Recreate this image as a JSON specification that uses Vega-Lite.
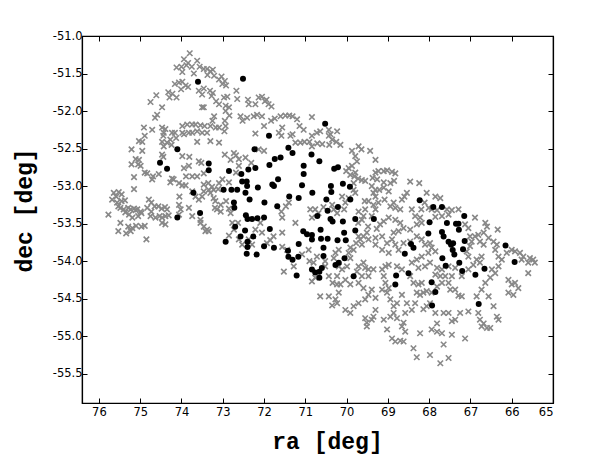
{
"$schema": "https://vega.github.io/schema/vega-lite/v6.json",
"autosize": "none",
"width": 471,
"height": 367,
"padding": {"left": 82, "top": 36, "right": 42, "bottom": 68},
"background": "white",
"config": {
  "view": {"stroke": "black", "strokeWidth": 1.2},
  "axis": {"grid": false, "domain": true, "domainColor": "black", "domainWidth": 1.2, "tickColor": "black", "tickSize": -5, "tickWidth": 1, "labelFont": "DejaVu Sans", "labelFontSize": 11.5, "labelColor": "black", "titleFont": "Liberation Mono", "titleFontWeight": "bold", "titleFontSize": 23, "titleColor": "black"}
},
"datasets": {
"gray": [
{"ra":73.80,"dec":-51.23},{"ra":73.94,"dec":-51.31},{"ra":73.84,"dec":-51.36},{"ra":73.62,"dec":-51.33},{"ra":74.12,"dec":-51.42},{"ra":74.00,"dec":-51.41},{"ra":73.88,"dec":-51.39},{"ra":73.75,"dec":-51.41},{"ra":73.56,"dec":-51.41},{"ra":73.46,"dec":-51.44},{"ra":73.38,"dec":-51.44},{"ra":73.30,"dec":-51.47},{"ra":73.24,"dec":-51.45},{"ra":73.98,"dec":-51.48},{"ra":73.70,"dec":-51.50},{"ra":73.37,"dec":-51.52},{"ra":73.21,"dec":-51.53},{"ra":73.03,"dec":-51.54},{"ra":73.09,"dec":-51.58},{"ra":72.95,"dec":-51.60},{"ra":72.92,"dec":-51.66},{"ra":73.01,"dec":-51.64},{"ra":74.06,"dec":-51.62},{"ra":73.98,"dec":-51.61},{"ra":73.90,"dec":-51.66},{"ra":73.84,"dec":-51.68},{"ra":74.01,"dec":-51.71},{"ra":74.16,"dec":-51.64},{"ra":73.46,"dec":-51.70},{"ra":73.31,"dec":-51.73},{"ra":73.27,"dec":-51.80},{"ra":73.24,"dec":-51.76},{"ra":73.58,"dec":-51.73},{"ra":73.50,"dec":-51.78},{"ra":74.32,"dec":-51.75},{"ra":74.22,"dec":-51.77},{"ra":74.12,"dec":-51.82},{"ra":74.29,"dec":-51.82},{"ra":74.61,"dec":-51.79},{"ra":74.75,"dec":-51.88},{"ra":74.47,"dec":-51.95},{"ra":74.59,"dec":-52.05},{"ra":74.64,"dec":-52.09},{"ra":73.50,"dec":-51.95},{"ra":73.46,"dec":-51.95},{"ra":73.16,"dec":-51.87},{"ra":73.09,"dec":-51.91},{"ra":72.97,"dec":-51.82},{"ra":72.89,"dec":-51.81},{"ra":72.93,"dec":-51.93},{"ra":72.85,"dec":-51.95},{"ra":72.67,"dec":-51.73},{"ra":72.65,"dec":-51.84},{"ra":72.39,"dec":-51.85},{"ra":72.37,"dec":-51.91},{"ra":72.21,"dec":-51.91},{"ra":72.13,"dec":-51.82},{"ra":72.05,"dec":-51.81},{"ra":71.98,"dec":-51.87},{"ra":71.94,"dec":-51.85},{"ra":71.89,"dec":-51.91},{"ra":71.82,"dec":-51.94},{"ra":72.93,"dec":-52.00},{"ra":72.95,"dec":-52.13},{"ra":72.84,"dec":-52.06},{"ra":72.57,"dec":-52.07},{"ra":72.41,"dec":-52.09},{"ra":72.52,"dec":-52.13},{"ra":72.25,"dec":-52.07},{"ra":72.17,"dec":-52.05},{"ra":72.05,"dec":-52.07},{"ra":71.83,"dec":-52.13},{"ra":71.74,"dec":-52.10},{"ra":71.60,"dec":-52.07},{"ra":71.48,"dec":-52.06},{"ra":71.39,"dec":-52.06},{"ra":71.31,"dec":-52.07},{"ra":71.20,"dec":-52.11},{"ra":70.84,"dec":-52.08},{"ra":71.14,"dec":-52.20},{"ra":71.04,"dec":-52.25},{"ra":71.56,"dec":-52.22},{"ra":71.58,"dec":-52.33},{"ra":72.00,"dec":-52.20},{"ra":72.21,"dec":-52.30},{"ra":71.64,"dec":-52.29},{"ra":71.36,"dec":-52.33},{"ra":71.31,"dec":-52.31},{"ra":71.24,"dec":-52.42},{"ra":71.12,"dec":-52.42},{"ra":71.02,"dec":-52.41},{"ra":70.90,"dec":-52.41},{"ra":70.84,"dec":-52.33},{"ra":70.72,"dec":-52.29},{"ra":70.64,"dec":-52.27},{"ra":70.43,"dec":-52.25},{"ra":70.39,"dec":-52.31},{"ra":70.23,"dec":-52.27},{"ra":70.43,"dec":-52.33},{"ra":70.35,"dec":-52.38},{"ra":70.25,"dec":-52.41},{"ra":70.15,"dec":-52.45},{"ra":70.42,"dec":-52.45},{"ra":70.71,"dec":-52.43},{"ra":70.84,"dec":-52.47},{"ra":70.59,"dec":-52.44},
{"ra":73.98,"dec":-52.20},{"ra":73.86,"dec":-52.18},{"ra":73.74,"dec":-52.18},{"ra":73.66,"dec":-52.18},{"ra":73.54,"dec":-52.19},{"ra":73.44,"dec":-52.20},{"ra":73.38,"dec":-52.29},{"ra":73.21,"dec":-52.07},{"ra":73.25,"dec":-52.13},{"ra":73.30,"dec":-52.20},{"ra":73.17,"dec":-52.22},{"ra":73.09,"dec":-52.22},{"ra":72.96,"dec":-52.27},{"ra":72.93,"dec":-52.20},{"ra":73.30,"dec":-52.40},{"ra":73.09,"dec":-52.42},{"ra":73.62,"dec":-52.41},{"ra":73.94,"dec":-52.31},{"ra":73.98,"dec":-52.29},{"ra":73.82,"dec":-52.29},{"ra":73.74,"dec":-52.29},{"ra":73.62,"dec":-52.27},{"ra":73.50,"dec":-52.29},{"ra":74.47,"dec":-52.22},{"ra":74.43,"dec":-52.29},{"ra":74.39,"dec":-52.24},{"ra":74.23,"dec":-52.29},{"ra":74.16,"dec":-52.29},{"ra":74.44,"dec":-52.33},{"ra":74.35,"dec":-52.42},{"ra":74.27,"dec":-52.38},{"ra":74.13,"dec":-52.36},{"ra":74.47,"dec":-52.41},{"ra":74.43,"dec":-52.47},{"ra":74.24,"dec":-52.45},{"ra":74.71,"dec":-52.25},{"ra":74.91,"dec":-52.22},{"ra":74.89,"dec":-52.33},{"ra":75.03,"dec":-52.40},{"ra":74.95,"dec":-52.41},{"ra":75.21,"dec":-52.51},{"ra":74.95,"dec":-52.53},{"ra":75.11,"dec":-52.64},{"ra":75.03,"dec":-52.65},{"ra":75.21,"dec":-52.71},{"ra":75.05,"dec":-52.71},{"ra":74.99,"dec":-52.73},{"ra":74.89,"dec":-52.82},{"ra":74.83,"dec":-52.83},{"ra":74.71,"dec":-52.91},{"ra":74.55,"dec":-52.84},{"ra":74.69,"dec":-52.87},{"ra":75.15,"dec":-52.88},{"ra":75.15,"dec":-53.04},{"ra":74.47,"dec":-52.58},{"ra":74.44,"dec":-52.61},{"ra":74.23,"dec":-52.90},{"ra":74.27,"dec":-52.95},{"ra":74.19,"dec":-52.91},{"ra":74.06,"dec":-52.96},{"ra":73.98,"dec":-52.99},{"ra":73.90,"dec":-52.99},{"ra":73.98,"dec":-52.60},{"ra":73.81,"dec":-52.61},{"ra":73.82,"dec":-52.73},{"ra":73.94,"dec":-52.76},{"ra":73.89,"dec":-52.87},{"ra":73.58,"dec":-52.67},{"ra":73.52,"dec":-52.69},{"ra":73.74,"dec":-52.87},{"ra":73.62,"dec":-52.87},{"ra":73.46,"dec":-52.83},{"ra":73.35,"dec":-52.96},{"ra":73.46,"dec":-52.98},{"ra":73.34,"dec":-53.05},{"ra":73.46,"dec":-53.07},{"ra":73.26,"dec":-53.01},{"ra":73.22,"dec":-53.05},{"ra":73.11,"dec":-53.04},{"ra":72.95,"dec":-52.58},{"ra":72.73,"dec":-52.56},{"ra":72.68,"dec":-52.59},{"ra":72.81,"dec":-52.65},{"ra":72.61,"dec":-52.64},{"ra":72.68,"dec":-52.82},{"ra":72.61,"dec":-52.73},{"ra":72.45,"dec":-52.62},{"ra":72.31,"dec":-52.69},{"ra":72.13,"dec":-52.51},{"ra":72.00,"dec":-52.53},{"ra":73.01,"dec":-52.91},{"ra":73.09,"dec":-52.96},{"ra":72.85,"dec":-52.95},
{"ra":75.64,"dec":-53.09},{"ra":75.52,"dec":-53.08},{"ra":75.45,"dec":-53.11},{"ra":75.58,"dec":-53.14},{"ra":75.68,"dec":-53.18},{"ra":75.56,"dec":-53.22},{"ra":75.45,"dec":-53.20},{"ra":75.37,"dec":-53.19},{"ra":75.53,"dec":-53.27},{"ra":75.48,"dec":-53.29},{"ra":75.40,"dec":-53.31},{"ra":75.29,"dec":-53.29},{"ra":75.23,"dec":-53.31},{"ra":75.15,"dec":-53.30},{"ra":75.11,"dec":-53.32},{"ra":75.07,"dec":-53.31},{"ra":74.99,"dec":-53.34},{"ra":75.36,"dec":-53.35},{"ra":75.27,"dec":-53.38},{"ra":75.19,"dec":-53.42},{"ra":75.05,"dec":-53.40},{"ra":74.97,"dec":-53.36},{"ra":75.77,"dec":-53.38},{"ra":75.48,"dec":-53.49},{"ra":75.29,"dec":-53.54},{"ra":75.19,"dec":-53.56},{"ra":75.10,"dec":-53.53},{"ra":74.97,"dec":-53.54},{"ra":74.89,"dec":-53.53},{"ra":75.53,"dec":-53.60},{"ra":75.34,"dec":-53.63},{"ra":75.23,"dec":-53.60},{"ra":74.85,"dec":-53.71},{"ra":74.79,"dec":-53.18},{"ra":74.73,"dec":-53.22},{"ra":74.65,"dec":-53.27},{"ra":74.56,"dec":-53.27},{"ra":74.48,"dec":-53.30},{"ra":74.40,"dec":-53.28},{"ra":74.73,"dec":-53.34},{"ra":74.83,"dec":-53.29},{"ra":74.75,"dec":-53.40},{"ra":74.63,"dec":-53.42},{"ra":74.53,"dec":-53.40},{"ra":74.47,"dec":-53.42},{"ra":74.35,"dec":-53.31},{"ra":74.39,"dec":-53.40},{"ra":74.47,"dec":-53.49},{"ra":74.39,"dec":-53.51},{"ra":74.31,"dec":-53.39},{"ra":74.06,"dec":-53.25},{"ra":73.82,"dec":-53.29},{"ra":74.05,"dec":-53.14},{"ra":74.02,"dec":-53.31},{"ra":74.06,"dec":-53.38},{"ra":73.74,"dec":-53.40},{"ra":73.54,"dec":-53.45},{"ra":73.54,"dec":-53.49},{"ra":73.46,"dec":-53.54},{"ra":73.38,"dec":-53.58},{"ra":73.42,"dec":-53.60},{"ra":73.34,"dec":-53.60},{"ra":73.58,"dec":-53.18},{"ra":73.66,"dec":-53.14},{"ra":73.74,"dec":-53.07},{"ra":73.50,"dec":-53.14},{"ra":73.30,"dec":-53.09},{"ra":73.22,"dec":-53.16},{"ra":73.18,"dec":-53.20},{"ra":73.19,"dec":-53.29},{"ra":73.14,"dec":-53.31},{"ra":73.05,"dec":-53.25},{"ra":72.92,"dec":-53.20},{"ra":73.05,"dec":-53.34},{"ra":72.85,"dec":-53.30},{"ra":72.81,"dec":-53.36},{"ra":72.77,"dec":-53.49},{"ra":72.63,"dec":-53.49},{"ra":72.73,"dec":-53.58},{"ra":72.85,"dec":-53.66},{"ra":72.61,"dec":-53.71},{"ra":72.53,"dec":-53.78},{"ra":72.37,"dec":-53.71},{"ra":72.29,"dec":-53.78},{"ra":72.21,"dec":-53.58},{"ra":72.09,"dec":-53.49},{"ra":72.05,"dec":-53.62},{"ra":71.93,"dec":-53.76},{"ra":71.85,"dec":-53.72},{"ra":71.77,"dec":-53.67},{"ra":71.56,"dec":-53.62},{"ra":71.58,"dec":-53.34},{"ra":71.56,"dec":-53.42},{"ra":71.47,"dec":-53.27},{"ra":71.40,"dec":-53.22},{"ra":71.24,"dec":-53.49},{"ra":70.88,"dec":-53.31},{"ra":70.84,"dec":-53.42},{"ra":70.76,"dec":-53.31},{"ra":70.68,"dec":-53.36},{"ra":70.56,"dec":-53.28},{"ra":70.35,"dec":-53.25},{"ra":70.31,"dec":-53.31},{"ra":70.23,"dec":-53.36},{"ra":70.03,"dec":-53.22},{"ra":70.06,"dec":-53.31},{"ra":70.11,"dec":-53.14},{"ra":69.95,"dec":-53.16},{"ra":69.83,"dec":-53.05},{"ra":69.79,"dec":-53.09},
{"ra":69.95,"dec":-52.76},{"ra":69.87,"dec":-52.73},{"ra":69.79,"dec":-52.82},{"ra":69.71,"dec":-52.47},{"ra":69.64,"dec":-52.51},{"ra":69.87,"dec":-52.53},{"ra":69.79,"dec":-52.60},{"ra":69.75,"dec":-52.67},{"ra":69.43,"dec":-52.53},{"ra":69.30,"dec":-52.65},{"ra":70.01,"dec":-52.80},{"ra":69.91,"dec":-52.85},{"ra":69.81,"dec":-52.87},{"ra":69.72,"dec":-52.90},{"ra":69.63,"dec":-52.92},{"ra":69.55,"dec":-52.93},{"ra":69.83,"dec":-52.96},{"ra":69.30,"dec":-52.82},{"ra":69.23,"dec":-52.80},{"ra":69.10,"dec":-52.80},{"ra":69.02,"dec":-52.79},{"ra":68.90,"dec":-52.81},{"ra":68.82,"dec":-52.83},{"ra":69.37,"dec":-52.89},{"ra":69.26,"dec":-52.91},{"ra":69.10,"dec":-52.95},{"ra":68.94,"dec":-52.96},{"ra":68.85,"dec":-52.93},{"ra":69.39,"dec":-53.00},{"ra":69.30,"dec":-53.05},{"ra":69.21,"dec":-53.05},{"ra":69.10,"dec":-53.02},{"ra":68.98,"dec":-53.07},{"ra":69.35,"dec":-53.09},{"ra":69.30,"dec":-53.14},{"ra":69.56,"dec":-53.20},{"ra":69.47,"dec":-53.20},{"ra":69.35,"dec":-53.25},{"ra":69.23,"dec":-53.22},{"ra":69.08,"dec":-53.18},{"ra":68.94,"dec":-53.27},{"ra":68.86,"dec":-53.22},{"ra":68.82,"dec":-53.29},{"ra":68.70,"dec":-53.31},{"ra":68.46,"dec":-52.94},{"ra":68.24,"dec":-52.96},{"ra":68.54,"dec":-53.09},{"ra":68.60,"dec":-53.14},{"ra":68.66,"dec":-53.18},{"ra":68.06,"dec":-53.09},{"ra":67.85,"dec":-53.14},{"ra":67.73,"dec":-53.16},{"ra":68.11,"dec":-53.22},{"ra":68.01,"dec":-53.29},{"ra":67.94,"dec":-53.31},{"ra":67.81,"dec":-53.32},{"ra":67.57,"dec":-53.31},{"ra":67.45,"dec":-53.32},{"ra":67.29,"dec":-53.31},{"ra":67.53,"dec":-53.38},{"ra":67.69,"dec":-53.40},{"ra":67.85,"dec":-53.41},{"ra":68.19,"dec":-53.31},{"ra":68.42,"dec":-53.31},{"ra":68.34,"dec":-53.40},{"ra":68.22,"dec":-53.42},{"ra":68.18,"dec":-53.49},{"ra":68.30,"dec":-53.51},{"ra":68.46,"dec":-53.58},{"ra":68.62,"dec":-53.56},{"ra":68.74,"dec":-53.60},{"ra":68.86,"dec":-53.62},{"ra":68.70,"dec":-53.49},{"ra":68.82,"dec":-53.45},{"ra":68.98,"dec":-53.42},{"ra":69.10,"dec":-53.47},{"ra":69.19,"dec":-53.51},{"ra":69.27,"dec":-53.57},{"ra":69.48,"dec":-53.54},{"ra":69.63,"dec":-53.45},{"ra":69.72,"dec":-53.49},{"ra":69.71,"dec":-53.34},{"ra":69.55,"dec":-53.31},{"ra":69.59,"dec":-53.40},{"ra":69.39,"dec":-53.40},{"ra":69.30,"dec":-53.31},{"ra":69.47,"dec":-53.71},{"ra":69.30,"dec":-53.69},{"ra":69.14,"dec":-53.67},{"ra":69.30,"dec":-53.78},{"ra":69.14,"dec":-53.85},{"ra":69.02,"dec":-53.76},{"ra":68.90,"dec":-53.71},{"ra":68.82,"dec":-53.78},{"ra":68.74,"dec":-53.85},{"ra":68.98,"dec":-53.89},{"ra":68.62,"dec":-53.76},{"ra":68.46,"dec":-53.74},{"ra":68.30,"dec":-53.67},{"ra":68.18,"dec":-53.71},{"ra":68.10,"dec":-53.78},{"ra":67.98,"dec":-53.76},{"ra":67.94,"dec":-53.82},{"ra":67.85,"dec":-53.87},{"ra":68.02,"dec":-53.89},{"ra":68.18,"dec":-53.94},{"ra":68.30,"dec":-53.98},{"ra":68.42,"dec":-54.02},{"ra":68.26,"dec":-54.09},{"ra":68.10,"dec":-54.07},{"ra":67.98,"dec":-54.02},{"ra":67.81,"dec":-54.09},{"ra":67.69,"dec":-54.11},{"ra":67.53,"dec":-54.07},{"ra":67.37,"dec":-54.09},{"ra":67.85,"dec":-54.18},{"ra":67.73,"dec":-54.20},{"ra":67.61,"dec":-54.20},{"ra":67.45,"dec":-54.20},{"ra":67.21,"dec":-54.20},{"ra":67.05,"dec":-54.11},{"ra":66.93,"dec":-54.05},{"ra":66.85,"dec":-53.98},{"ra":66.73,"dec":-53.94},{"ra":66.77,"dec":-54.02},{"ra":67.05,"dec":-53.94},{"ra":67.09,"dec":-53.87},{"ra":67.01,"dec":-53.80},{"ra":66.97,"dec":-53.74},{"ra":66.89,"dec":-53.67},{"ra":66.81,"dec":-53.65},{"ra":66.68,"dec":-53.62},{"ra":66.60,"dec":-53.54},{"ra":66.64,"dec":-53.49},{"ra":66.89,"dec":-53.42},{"ra":67.05,"dec":-53.56},{"ra":67.13,"dec":-53.51},{"ra":67.01,"dec":-53.67},{"ra":66.77,"dec":-53.74},{"ra":66.68,"dec":-53.78},{"ra":66.56,"dec":-53.69},{"ra":66.44,"dec":-53.74},{"ra":66.36,"dec":-53.78},{"ra":66.40,"dec":-53.85},{"ra":66.32,"dec":-53.94},{"ra":66.24,"dec":-53.98},{"ra":66.12,"dec":-53.89},{"ra":66.00,"dec":-53.85},{"ra":65.92,"dec":-53.87},{"ra":65.80,"dec":-53.89},{"ra":65.72,"dec":-53.94},{"ra":65.76,"dec":-53.98},{"ra":65.60,"dec":-54.02},{"ra":65.56,"dec":-53.96},{"ra":65.48,"dec":-53.98},{"ra":65.44,"dec":-54.02},{"ra":65.60,"dec":-54.16},{"ra":66.08,"dec":-54.25},{"ra":66.00,"dec":-54.31},{"ra":65.92,"dec":-54.29},{"ra":65.84,"dec":-54.36},{"ra":66.08,"dec":-54.42},{"ra":65.96,"dec":-54.45},{"ra":66.34,"dec":-53.58},{"ra":66.48,"dec":-54.11},{"ra":66.40,"dec":-54.16},{"ra":66.32,"dec":-54.07},{"ra":66.52,"dec":-54.22},{"ra":66.64,"dec":-54.29},{"ra":66.73,"dec":-54.38},{"ra":66.85,"dec":-54.47},{"ra":66.56,"dec":-54.47},{"ra":66.44,"dec":-54.60},{"ra":66.36,"dec":-54.74},{"ra":66.32,"dec":-54.78},{"ra":66.60,"dec":-54.89},{"ra":66.68,"dec":-54.83},{"ra":66.77,"dec":-54.78},{"ra":66.81,"dec":-54.69},{"ra":66.73,"dec":-54.87},{"ra":66.52,"dec":-54.89},{"ra":67.13,"dec":-55.03},{"ra":67.05,"dec":-54.67},{"ra":67.25,"dec":-54.69},{"ra":67.37,"dec":-54.78},{"ra":67.45,"dec":-54.80},{"ra":67.53,"dec":-54.69},{"ra":67.65,"dec":-54.69},{"ra":67.21,"dec":-54.47},{"ra":67.29,"dec":-54.46},{"ra":67.37,"dec":-54.38},{"ra":67.49,"dec":-54.38},{"ra":67.53,"dec":-54.29},{"ra":67.69,"dec":-54.29},{"ra":67.81,"dec":-54.34},{"ra":67.94,"dec":-54.42},{"ra":67.98,"dec":-54.56},{"ra":68.06,"dec":-54.60},{"ra":68.14,"dec":-54.64},{"ra":68.34,"dec":-54.56},{"ra":68.42,"dec":-54.65},{"ra":68.58,"dec":-54.69},{"ra":68.54,"dec":-54.56},{"ra":68.66,"dec":-54.45},{"ra":68.78,"dec":-54.56},{"ra":68.86,"dec":-54.60},{"ra":68.94,"dec":-54.51},{"ra":69.02,"dec":-54.42},{"ra":69.06,"dec":-54.29},{"ra":69.14,"dec":-54.38},{"ra":68.98,"dec":-54.36},{"ra":69.10,"dec":-54.20},{"ra":69.14,"dec":-54.11},{"ra":69.06,"dec":-54.07},{"ra":68.98,"dec":-54.05},{"ra":68.78,"dec":-54.07},{"ra":68.66,"dec":-54.11},{"ra":68.46,"dec":-54.20},{"ra":68.38,"dec":-54.29},{"ra":68.26,"dec":-54.31},{"ra":68.18,"dec":-54.29},{"ra":68.06,"dec":-54.40},{"ra":68.14,"dec":-54.42},{"ra":68.22,"dec":-54.45},{"ra":68.30,"dec":-54.42},{"ra":67.85,"dec":-54.69},{"ra":67.81,"dec":-54.83},{"ra":67.94,"dec":-54.91},{"ra":67.81,"dec":-54.94},{"ra":67.69,"dec":-54.96},{"ra":67.45,"dec":-54.98},{"ra":67.65,"dec":-55.11},{"ra":67.73,"dec":-55.36},{"ra":67.53,"dec":-55.29},{"ra":67.98,"dec":-55.25},{"ra":68.30,"dec":-55.28},{"ra":68.38,"dec":-55.16},{"ra":68.22,"dec":-54.96},{"ra":68.58,"dec":-54.94},{"ra":68.66,"dec":-54.87},{"ra":68.62,"dec":-54.82},{"ra":68.78,"dec":-54.76},{"ra":68.86,"dec":-54.69},{"ra":68.94,"dec":-54.74},{"ra":69.10,"dec":-54.78},{"ra":69.02,"dec":-54.91},{"ra":68.90,"dec":-55.03},{"ra":68.82,"dec":-55.07},{"ra":68.70,"dec":-55.06},{"ra":68.62,"dec":-55.07},{"ra":69.30,"dec":-54.65},{"ra":69.35,"dec":-54.74},{"ra":69.39,"dec":-54.78},{"ra":69.55,"dec":-54.76},{"ra":69.51,"dec":-54.82},{"ra":69.51,"dec":-54.87},{"ra":69.71,"dec":-54.56},{"ra":69.83,"dec":-54.60},{"ra":69.91,"dec":-54.69},{"ra":70.03,"dec":-54.65},{"ra":69.55,"dec":-54.51},{"ra":69.47,"dec":-54.45},{"ra":69.39,"dec":-54.38},{"ra":69.30,"dec":-54.49},{"ra":69.59,"dec":-54.36},{"ra":69.71,"dec":-54.29},{"ra":69.63,"dec":-54.20},{"ra":69.75,"dec":-54.14},{"ra":69.71,"dec":-54.07},{"ra":69.59,"dec":-54.02},{"ra":69.55,"dec":-54.09},{"ra":69.47,"dec":-54.11},{"ra":69.35,"dec":-54.11},{"ra":69.47,"dec":-54.20},{"ra":69.91,"dec":-54.31},{"ra":70.03,"dec":-54.25},{"ra":70.15,"dec":-54.31},{"ra":70.23,"dec":-54.31},{"ra":70.19,"dec":-54.42},{"ra":70.27,"dec":-54.51},{"ra":70.43,"dec":-54.47},{"ra":70.64,"dec":-54.47},{"ra":70.35,"dec":-54.59},{"ra":70.23,"dec":-54.56},{"ra":70.43,"dec":-54.20},{"ra":70.34,"dec":-54.29},{"ra":70.19,"dec":-54.07},{"ra":70.23,"dec":-54.20},{"ra":70.11,"dec":-54.11},{"ra":69.99,"dec":-54.07},{"ra":69.91,"dec":-53.96},{"ra":69.95,"dec":-53.89},{"ra":69.83,"dec":-53.85},{"ra":69.77,"dec":-53.76},{"ra":69.63,"dec":-53.78},{"ra":69.67,"dec":-53.71},{"ra":69.59,"dec":-53.67},{"ra":69.51,"dec":-53.62},{"ra":69.71,"dec":-53.67},{"ra":69.91,"dec":-53.82},{"ra":71.56,"dec":-53.81},{"ra":71.44,"dec":-53.85},{"ra":71.52,"dec":-54.14},{"ra":71.28,"dec":-54.07},{"ra":71.08,"dec":-53.91},{"ra":70.92,"dec":-53.85},{"ra":70.80,"dec":-54.02},{"ra":70.84,"dec":-54.27},{"ra":70.76,"dec":-54.22},{"ra":70.52,"dec":-54.07},{"ra":70.52,"dec":-54.00},{"ra":70.31,"dec":-53.96},{"ra":70.27,"dec":-53.89},{"ra":70.19,"dec":-53.85},{"ra":70.72,"dec":-53.94},{"ra":70.90,"dec":-54.00}
],
"black": [
{"ra":73.60,"dec":-51.61},{"ra":72.51,"dec":-51.57},{"ra":70.52,"dec":-52.17},{"ra":71.88,"dec":-52.33},{"ra":74.10,"dec":-52.51},{"ra":72.23,"dec":-52.51},{"ra":71.41,"dec":-52.49},{"ra":71.31,"dec":-52.56},{"ra":70.85,"dec":-52.58},{"ra":70.66,"dec":-52.67},{"ra":74.52,"dec":-52.69},{"ra":74.35,"dec":-52.77},{"ra":73.34,"dec":-52.70},{"ra":73.34,"dec":-52.79},{"ra":72.85,"dec":-52.80},{"ra":72.55,"dec":-52.84},{"ra":72.38,"dec":-52.78},{"ra":72.21,"dec":-52.76},{"ra":71.74,"dec":-52.64},{"ra":71.60,"dec":-52.62},{"ra":71.87,"dec":-52.72},{"ra":71.04,"dec":-52.73},{"ra":71.04,"dec":-52.84},{"ra":70.30,"dec":-52.77},{"ra":70.21,"dec":-52.75},{"ra":72.53,"dec":-52.94},{"ra":72.42,"dec":-52.94},{"ra":72.41,"dec":-53.00},{"ra":72.45,"dec":-53.09},{"ra":72.15,"dec":-53.02},{"ra":71.80,"dec":-52.98},{"ra":71.76,"dec":-53.00},{"ra":71.66,"dec":-52.91},{"ra":71.08,"dec":-52.99},{"ra":70.83,"dec":-53.09},{"ra":70.38,"dec":-53.00},{"ra":70.37,"dec":-53.08},{"ra":70.09,"dec":-52.97},{"ra":69.92,"dec":-53.01},{"ra":73.71,"dec":-53.09},{"ra":72.98,"dec":-53.05},{"ra":72.79,"dec":-53.05},{"ra":72.65,"dec":-53.05},{"ra":72.73,"dec":-53.22},{"ra":72.72,"dec":-53.29},{"ra":72.35,"dec":-53.18},{"ra":71.99,"dec":-53.22},{"ra":71.68,"dec":-53.27},{"ra":71.39,"dec":-53.14},{"ra":71.16,"dec":-53.16},{"ra":70.49,"dec":-53.18},{"ra":70.21,"dec":-53.28},{"ra":70.46,"dec":-53.33},{"ra":69.91,"dec":-53.18},{"ra":74.10,"dec":-53.42},{"ra":73.55,"dec":-53.36},{"ra":72.44,"dec":-53.39},{"ra":72.40,"dec":-53.44},{"ra":72.29,"dec":-53.44},{"ra":72.16,"dec":-53.43},{"ra":72.00,"dec":-53.42},{"ra":70.71,"dec":-53.40},{"ra":70.39,"dec":-53.44},{"ra":70.34,"dec":-53.47},{"ra":70.09,"dec":-53.47},{"ra":69.79,"dec":-53.44},{"ra":69.34,"dec":-53.44},{"ra":72.70,"dec":-53.54},{"ra":72.46,"dec":-53.59},{"ra":72.57,"dec":-53.67},{"ra":72.26,"dec":-53.67},{"ra":71.86,"dec":-53.57},{"ra":71.05,"dec":-53.60},{"ra":70.96,"dec":-53.64},{"ra":70.84,"dec":-53.65},{"ra":70.63,"dec":-53.58},{"ra":70.84,"dec":-53.71},{"ra":70.62,"dec":-53.70},{"ra":70.46,"dec":-53.70},{"ra":70.22,"dec":-53.72},{"ra":70.06,"dec":-53.62},{"ra":70.02,"dec":-53.72},{"ra":69.79,"dec":-53.59},{"ra":72.93,"dec":-53.74},{"ra":72.40,"dec":-53.74},{"ra":72.40,"dec":-53.81},{"ra":72.00,"dec":-53.80},{"ra":71.76,"dec":-53.82},{"ra":72.42,"dec":-53.90},{"ra":72.18,"dec":-53.91},{"ra":71.42,"dec":-53.86},{"ra":71.41,"dec":-53.94},{"ra":71.16,"dec":-53.77},{"ra":71.17,"dec":-53.94},{"ra":71.31,"dec":-53.98},{"ra":70.56,"dec":-53.82},{"ra":70.56,"dec":-53.93},{"ra":70.05,"dec":-53.96},{"ra":70.19,"dec":-54.02},{"ra":70.27,"dec":-54.05},{"ra":70.84,"dec":-54.11},{"ra":70.76,"dec":-54.15},{"ra":70.66,"dec":-54.14},{"ra":70.66,"dec":-54.22},{"ra":70.60,"dec":-54.09},{"ra":71.21,"dec":-54.19},{"ra":69.83,"dec":-54.20},{"ra":68.80,"dec":-54.19},{"ra":68.82,"dec":-54.31},{"ra":68.50,"dec":-54.16},{"ra":68.59,"dec":-53.90},{"ra":68.44,"dec":-53.77},{"ra":68.38,"dec":-53.82},{"ra":68.23,"dec":-53.19},{"ra":67.90,"dec":-53.28},{"ra":67.69,"dec":-53.28},{"ra":67.15,"dec":-53.40},{"ra":67.99,"dec":-53.48},{"ra":67.57,"dec":-53.49},{"ra":67.35,"dec":-53.50},{"ra":67.29,"dec":-53.50},{"ra":67.28,"dec":-53.58},{"ra":67.69,"dec":-53.61},{"ra":68.02,"dec":-53.63},{"ra":67.65,"dec":-53.67},{"ra":67.53,"dec":-53.74},{"ra":67.47,"dec":-53.78},{"ra":67.43,"dec":-53.85},{"ra":67.39,"dec":-53.91},{"ra":67.14,"dec":-53.73},{"ra":67.18,"dec":-53.84},{"ra":67.68,"dec":-53.96},{"ra":67.60,"dec":-54.06},{"ra":67.27,"dec":-54.02},{"ra":67.20,"dec":-54.13},{"ra":66.88,"dec":-54.18},{"ra":66.66,"dec":-54.10},{"ra":66.15,"dec":-53.79},{"ra":65.93,"dec":-54.01},{"ra":67.94,"dec":-54.28},{"ra":67.85,"dec":-54.41},{"ra":67.93,"dec":-54.59},{"ra":66.80,"dec":-54.57},{"ra":67.42,"dec":-53.76}
]
},
"resolve": {"axis": {"x": "independent", "y": "independent"}},
"layer": [
  {
    "data": {"name": "gray"},
    "mark": {"type": "point", "shape": "M-1,-1L1,1M1,-1L-1,1", "filled": false, "color": "#888888", "strokeWidth": 1.6, "size": 30, "opacity": 1},
    "encoding": {
      "x": {"field": "ra", "type": "quantitative", "scale": {"domain": [65, 76.41], "reverse": true, "nice": false, "zero": false},
            "axis": {"orient": "bottom", "title": "ra [deg]", "values": [65,66,67,68,69,70,71,72,73,74,75,76], "format": "d", "labelPadding": 8, "titleX": 245, "titleY": 38, "titleBaseline": "middle", "titleAlign": "center"}},
      "y": {"field": "dec", "type": "quantitative", "scale": {"domain": [-55.89, -51.0], "nice": false, "zero": false},
            "axis": {"orient": "left", "title": "dec [deg]", "values": [-55.5,-55,-54.5,-54,-53.5,-53,-52.5,-52,-51.5,-51], "labelExpr": "replace(format(datum.value, '.1f'), '\u2212', '-')", "labelPadding": 5, "titleX": -58, "titleY": 174, "titleAngle": 270, "titleBaseline": "middle", "titleAlign": "center"}}
    }
  },
  {
    "data": {"name": "black"},
    "mark": {"type": "circle", "color": "black", "size": 36, "opacity": 1},
    "encoding": {
      "x": {"field": "ra", "type": "quantitative", "axis": {"orient": "top", "title": null, "labels": false, "values": [65,66,67,68,69,70,71,72,73,74,75,76]}},
      "y": {"field": "dec", "type": "quantitative", "axis": {"orient": "right", "title": null, "labels": false, "values": [-55.5,-55,-54.5,-54,-53.5,-53,-52.5,-52,-51.5,-51]}}
    }
  }
]
}
